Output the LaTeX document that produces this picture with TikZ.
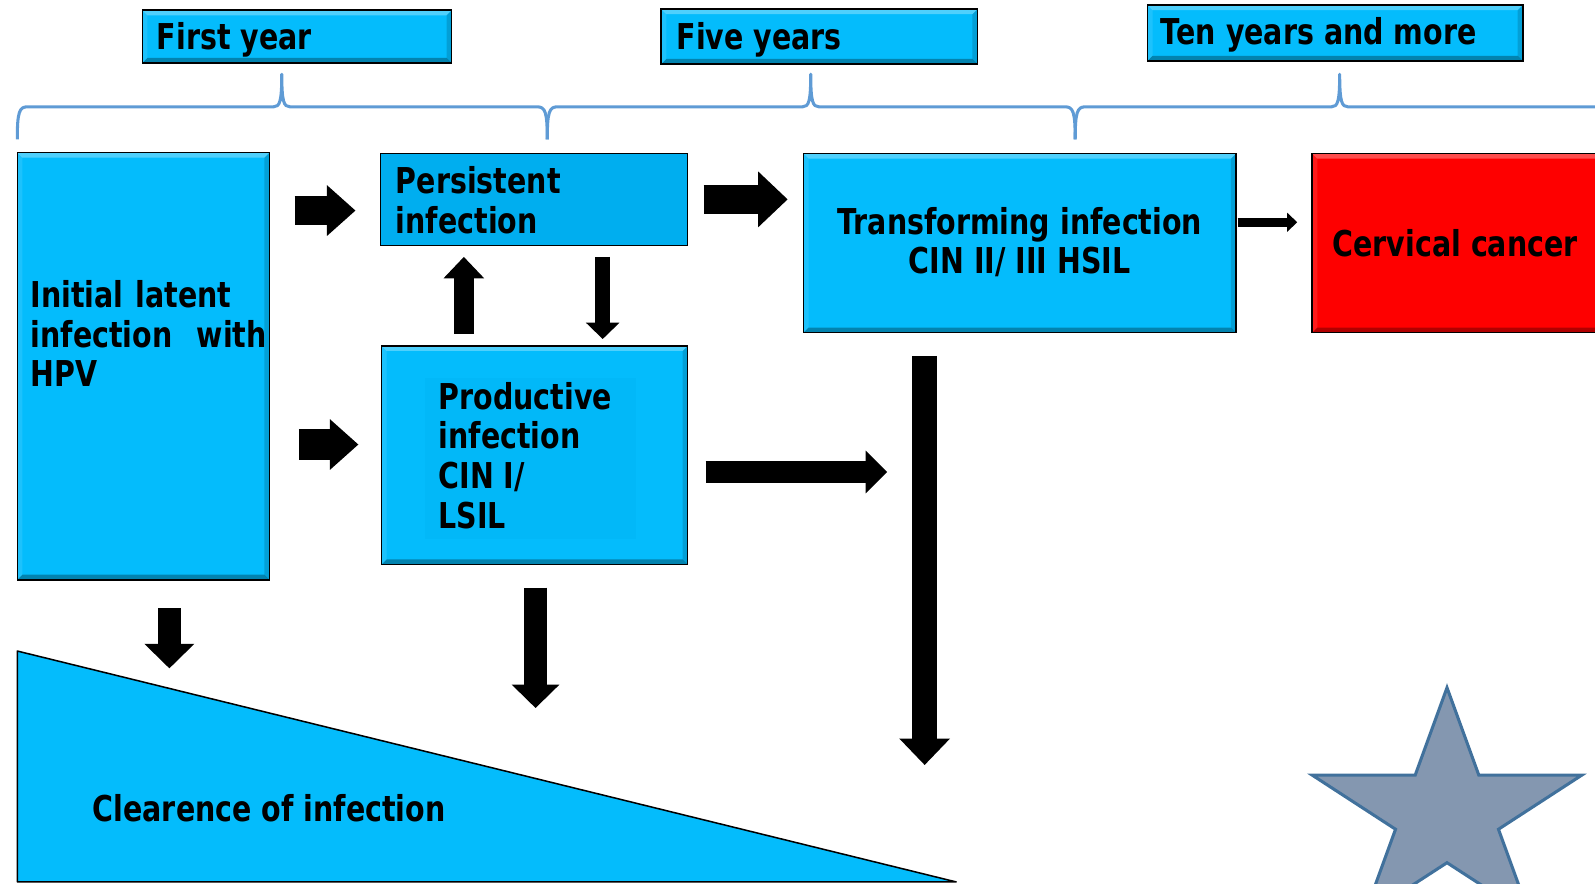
\documentclass[tikz,border=0pt]{standalone}
\usepackage{fontspec}
\setmainfont{DejaVu Sans}[FakeStretch=0.8]
\usetikzlibrary{arrows.meta,calc}
\definecolor{skyfill}{RGB}{4,188,252}
\definecolor{skydark}{RGB}{0,174,239}
\definecolor{cancerred}{RGB}{254,0,0}
\definecolor{bracecol}{RGB}{95,155,213}
\definecolor{starfill}{RGB}{132,151,176}
\definecolor{starline}{RGB}{65,113,156}
\tikzset{
  box/.style={draw=black, line width=1.5pt, fill=skyfill, inner sep=0pt,
    path picture={
      \fill[white, opacity=.3] (path picture bounding box.north west) -- (path picture bounding box.north east)
        -- ([shift={(-5pt,-5pt)}]path picture bounding box.north east) -- ([shift={(5pt,-5pt)}]path picture bounding box.north west) -- cycle;
      \fill[black, opacity=.3] (path picture bounding box.south west) -- (path picture bounding box.south east)
        -- ([shift={(-5pt,5pt)}]path picture bounding box.south east) -- ([shift={(5pt,5pt)}]path picture bounding box.south west) -- cycle;
      \fill[black, opacity=.15] (path picture bounding box.north east) -- (path picture bounding box.south east)
        -- ([shift={(-5pt,5pt)}]path picture bounding box.south east) -- ([shift={(-5pt,-5pt)}]path picture bounding box.north east) -- cycle;
      \fill[white, opacity=.1] (path picture bounding box.north west) -- (path picture bounding box.south west)
        -- ([shift={(5pt,5pt)}]path picture bounding box.south west) -- ([shift={(5pt,-5pt)}]path picture bounding box.north west) -- cycle;
    }},
  flatbox/.style={draw=black, line width=1.2pt, fill=skydark, inner sep=0pt},
  lbl/.style={inner sep=0pt, font=\bfseries\fontsize{35pt}{39pt}\selectfont, align=left},
  blk/.style n args={3}{draw=black, line width=#1, -{Triangle[length=#2, width=#3, line width=0pt]}},
  brc/.style={draw=bracecol, line width=3pt, line join=round},
}
\begin{document}
\begin{tikzpicture}[x=1pt, y=-1pt]
\path[use as bounding box, clip] (0,0) rectangle (1568,869);
\node[box, minimum width=304pt, minimum height=52pt] (yr1) at (292,36) {};
\node[box, minimum width=311pt, minimum height=54pt] (yr5) at (805.5,36) {};
\node[box, minimum width=369pt, minimum height=55pt] (yr10) at (1312.5,32.5) {};
\node[lbl, anchor=base west] (yr1txt) at (154,49) {First year};
\node[lbl, anchor=base west] (yr5txt) at (665,49) {Five years};
\node[lbl, anchor=base west] (yr10txt) at (1141,44) {Ten years and more};
\foreach \xl/\xt/\xr in {17/277/538,538/797/1057,1057/1317/1577}
  \draw[brc] (\xl,137) .. controls (\xl,110) and (\xl+2,105) .. (\xl+10,105) -- (\xt-8,105)
    .. controls (\xt-2,105) and (\xt,100) .. (\xt,73) .. controls (\xt,100) and (\xt+2,105) .. (\xt+8,105)
    -- (\xr-10,105) .. controls (\xr-2,105) and (\xr,110) .. (\xr,137);
\node[box, minimum width=248pt, minimum height=420pt] (init) at (141,360) {};
\node[flatbox, minimum width=302pt, minimum height=90pt] (pers) at (525,196) {};
\node[box, minimum width=301pt, minimum height=215pt] (prod) at (525.5,447.5) {};
\fill[skydark, opacity=.25] (418,372) rectangle (625,530);
\node[box, minimum width=425pt, minimum height=176pt] (trans) at (1002.5,239) {};
\node[box, fill=cancerred, minimum width=285pt, minimum height=176pt] (cancer) at (1432.5,239) {};
\node[lbl, anchor=north west, text width=232pt] (inittxt) at (30,275.4) {Initial latent\\infection\hfill with\\HPV};
\node[lbl, anchor=north west] (perstxt) at (389,163.4) {Persistent\\infection};
\node[lbl, anchor=north west] (prodtxt) at (431,375.4) {Productive\\infection\\CIN I/\\LSIL};
\node[lbl, anchor=north, align=center] (transtxt) at (1002.5,203.4) {Transforming infection\\CIN II/ III HSIL};
\node[lbl, anchor=base] (cancertxt) at (1430.5,252) {Cervical cancer};
\draw[fill=skyfill, line width=1.5pt, line join=round] (17,640) -- (17,867) -- (940,867) -- cycle;
\node[lbl, anchor=base west] (cleartxt) at (91,808) {Clearence of infection};
\coordinate (a6end) at (872,464);
\coordinate (a7end) at (909,752);
\coordinate (a8end) at (166.5,657);
\coordinate (a9end) at (526.5,696);
\draw[blk={29pt}{28pt}{50pt}, shorten <=24pt, shorten >=24pt] ($(init.east |- pers.west)+(0,11)$) -- ($(pers.west)+(0,11)$);
\draw[blk={30pt}{28pt}{50pt}, shorten <=28pt, shorten >=22pt] ($(init.east |- prod.west)+(0,-10.5)$) -- ($(prod.west)+(0,-10.5)$);
\draw[blk={28pt}{29pt}{55pt}, shorten <=15pt, shorten >=15pt] (pers.east) -- (trans.west |- pers.east);
\draw[blk={19pt}{21pt}{40pt}, shorten <=11pt, shorten >=11pt] ($(prod.north)+(-69.5,0)$) -- ($(pers.south)+(-69,0)$);
\draw[blk={15pt}{16pt}{33pt}, shorten <=11pt, shorten >=6pt] ($(pers.south)+(67.5,0)$) -- ($(prod.north)+(67,0)$);
\draw[blk={21pt}{21pt}{42pt}, shorten <=17pt] ($(prod.east)+(0,16.5)$) -- (a6end);
\draw[blk={24pt}{26pt}{50pt}, shorten <=22pt] ($(trans.south)+(-93.5,0)$) -- (a7end);
\draw[blk={23pt}{24pt}{49pt}, shorten <=27pt] ($(init.south)+(25.5,0)$) -- (a8end);
\draw[blk={23pt}{23pt}{47pt}, shorten <=22pt] ($(prod.south)+(1,0)$) -- (a9end);
\draw[blk={9pt}{10pt}{19pt}, shorten <=1pt, shorten >=14pt] ($(trans.east)+(0,-20.5)$) -- ($(cancer.west)+(0,-20.5)$);
\draw[fill=starfill, draw=starline, line width=3pt] ([shift={(1422.5,800.5)}]-90:139.3 and 124.5)
  \foreach \b/\c in {-54/-18,18/54,90/126,162/198,234/270} { -- ([shift={(1422.5,800.5)}]\b:53.2 and 47.6) -- ([shift={(1422.5,800.5)}]\c:139.3 and 124.5)} -- cycle;
\end{tikzpicture}
\end{document}
